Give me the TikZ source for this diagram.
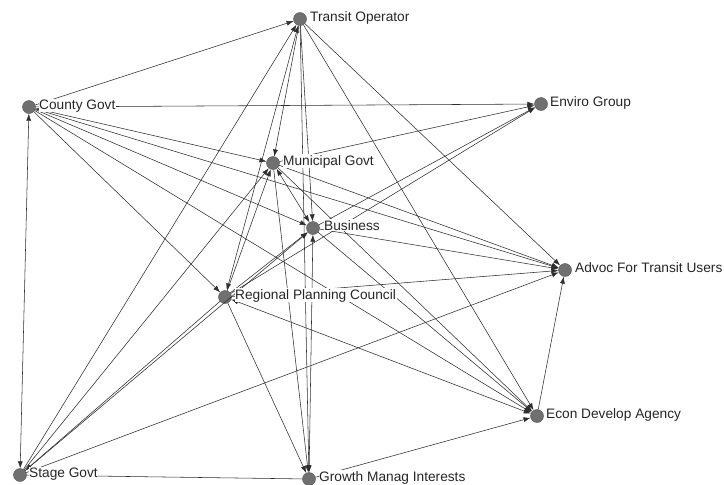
\documentclass[tikz,border=0pt]{standalone}
\usepackage{fontspec}
\setmainfont{Liberation Sans}
\usetikzlibrary{arrows.meta}
\definecolor{nodegray}{HTML}{707070}
\definecolor{edgegray}{HTML}{2E2E2E}
\begin{document}
\begin{tikzpicture}[x=1pt,y=-1pt,
  vert/.style={circle,fill=nodegray,draw=nodegray!75!black,line width=0.4pt,minimum size=13pt,inner sep=0pt},
  lab/.style={anchor=base west,fill=white,inner sep=0.6pt,font=\fontsize{13.7}{16}\selectfont,text=black!85},
  plain/.style={draw=edgegray,line width=0.55pt},
  edge/.style={draw=edgegray,line width=0.55pt,-{Latex[length=7pt,width=5pt]}},
  both/.style={draw=edgegray,line width=0.55pt,{Latex[length=7pt,width=5pt]}-{Latex[length=7pt,width=5pt]}}]
\useasboundingbox[fill=white] (0,0) rectangle (724,485);
% vertices
\node[vert] (T) at (300,19) {};
\node[vert] (C) at (29,107) {};
\node[vert] (E) at (541,104) {};
\node[vert] (M) at (273,163) {};
\node[vert] (B) at (313,228) {};
\node[vert] (A) at (565,270) {};
\node[vert] (R) at (225,297) {};
\node[vert] (D) at (537,416) {};
\node[vert] (S) at (20,475) {};
\node[vert] (G) at (309,479) {};
% edges
\draw[edge] (C) -- (T);
\draw[edge] (C) -- (E);
\draw[both] (C) -- (S);
\draw[both] (C) -- (M);
\draw[edge] (C) -- (B);
\draw[edge] (C) -- (A);
\draw[edge] (C) -- (R);
\draw[edge] (C) -- (D);
\draw[edge] (S) -- (T);
\draw[edge] (S) -- (M);
\draw[edge] (S) -- (B);
\draw[edge] (R) -- (S);
\draw[edge] (S) -- (A);
\draw[plain] (S) -- (G);
\draw[edge] (T) -- (M);
\draw[edge] (T) -- (B);
\draw[both] (T) -- (R);
\draw[edge] (T) -- (G);
\draw[edge] (T) -- (D);
\draw[edge] (T) -- (A);
\draw[edge] (M) -- (E);
\draw[edge] (M) -- (A);
\draw[edge] (M) -- (D);
\draw[edge] (M) -- (G);
\draw[both] (M) -- (B);
\draw[edge] (B) -- (E);
\draw[edge] (B) -- (A);
\draw[edge] (B) -- (D);
\draw[both] (B) -- (G);
\draw[edge] (R) -- (M);
\draw[edge] (R) -- (B);
\draw[edge] (R) -- (E);
\draw[edge] (R) -- (A);
\draw[edge] (R) -- (G);
\draw[both] (R) -- (D);
\draw[edge] (G) -- (D);
\draw[edge] (D) -- (A);
% labels
\node[lab] (Tl) at (309.4,21) {Transit Operator};
\node[lab] (Cl) at (38.4,109) {County Govt};
\node[lab] (El) at (549.4,106) {Enviro Group};
\node[lab] (Ml) at (282.4,165) {Municipal Govt};
\node[lab] (Bl) at (323.4,230) {Business};
\node[lab] (Al) at (574.4,272) {Advoc For Transit Users};
\node[lab] (Rl) at (234.4,299) {Regional Planning Council};
\node[lab] (Dl) at (545.4,418) {Econ Develop Agency};
\node[lab] (Sl) at (28.4,477) {Stage Govt};
\node[lab] (Gl) at (318.4,481) {Growth Manag Interests};
\end{tikzpicture}
\end{document}
